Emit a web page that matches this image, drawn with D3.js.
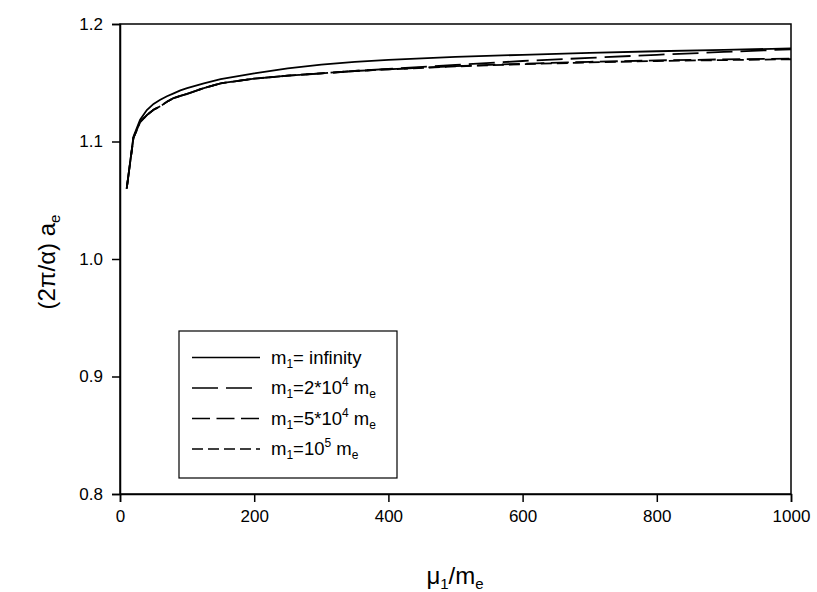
<!DOCTYPE html>
<html><head><meta charset="utf-8">
<script src="https://cdn.jsdelivr.net/npm/d3@7"></script>
<style>body{margin:0;background:#fff}svg{display:block}text{font-family:Arial,"Liberation Sans",sans-serif;fill:#000}</style>
</head><body><svg id="c" width="817" height="592"></svg>
<script>
const mu = [10,20,30,40,50,60,70,80,90,100,125,150,200,250,300,350,400,500,600,700,800,900,1000];
const infinity = [1.060,1.104,1.1185,1.1268,1.132,1.1355,1.1385,1.141,1.1435,1.1455,1.1495,1.153,1.158,1.1622,1.1655,1.1677,1.1695,1.172,1.1738,1.1755,1.1768,1.178,1.1792];
const m2e4 = [1.060,1.103,1.1165,1.1225,1.127,1.130,1.1338,1.137,1.1388,1.1405,1.1455,1.1495,1.1535,1.156,1.158,1.160,1.1618,1.1652,1.1685,1.1712,1.1738,1.1762,1.1785];
const m5e4 = [1.060,1.103,1.1165,1.1225,1.127,1.130,1.1338,1.137,1.1388,1.1405,1.1455,1.1495,1.1535,1.156,1.158,1.160,1.1615,1.1642,1.1662,1.1678,1.1690,1.1699,1.1706];
const m1e5 = [1.060,1.103,1.1165,1.1225,1.127,1.130,1.1338,1.137,1.1388,1.1405,1.1455,1.1495,1.1535,1.156,1.158,1.160,1.1614,1.1639,1.1658,1.1673,1.1685,1.1693,1.1700];
const xTicks = [0,200,400,600,800,1000];
const yTicks = [0.8,0.9,1.0,1.1,1.2];
const seriesNames = ["infinity","2*10^4","5*10^4","10^5"];

const series = [
  {vals: infinity, dash: null, label: [["m",""],["1","sub"],["= infinity",""]]},
  {vals: m2e4, dash: "26,8", label: [["m",""],["1","sub"],["=2*10",""],["4","sup"],[" m",""],["e","sub"]]},
  {vals: m5e4, dash: "18,6.5", label: [["m",""],["1","sub"],["=5*10",""],["4","sup"],[" m",""],["e","sub"]]},
  {vals: m1e5, dash: "11,5", label: [["m",""],["1","sub"],["=10",""],["5","sup"],[" m",""],["e","sub"]]}
];

const svg = d3.select("#c");
const L=120, R=791, T=24, B=494;
const x = d3.scaleLinear().domain([0,1000]).range([L,R]);
const y = d3.scaleLinear().domain([0.8,1.2]).range([B,T]);

svg.append("rect").attr("x",L).attr("y",T).attr("width",R-L).attr("height",B-T)
  .attr("fill","none").attr("stroke","#000").attr("stroke-width",1.5);

const xa = svg.append("g").attr("transform",`translate(0,${B})`)
  .call(d3.axisBottom(x).tickValues(xTicks).tickSize(8).tickPadding(8).tickFormat(d3.format("d")));
const ya = svg.append("g").attr("transform",`translate(${L},0)`)
  .call(d3.axisLeft(y).tickValues(yTicks).tickSize(8).tickPadding(9).tickFormat(d3.format(".1f")));
[xa,ya].forEach(a=>{
  a.select(".domain").attr("stroke-width",1.5);
  a.selectAll(".tick line").attr("stroke-width",1.5);
  a.selectAll("text").style("font-size","17px").style("font-family","Arial, 'Liberation Sans', sans-serif");
});

const line = d3.line().x((d,i)=>x(mu[i])).y(d=>y(d)).curve(d3.curveLinear);
series.forEach(s=>{
  svg.append("path").attr("d",line(s.vals)).attr("fill","none").attr("stroke","#000")
    .attr("stroke-width",1.8).attr("stroke-dasharray",s.dash);
});

// legend
svg.append("rect").attr("x",179).attr("y",331).attr("width",218).attr("height",147)
  .attr("fill","#fff").attr("stroke","#000").attr("stroke-width",1.2);
series.forEach((s,i)=>{
  const yy = 357.5 + i*30.5;
  svg.append("line").attr("x1",192).attr("x2",260).attr("y1",yy).attr("y2",yy)
    .attr("stroke","#000").attr("stroke-width",1.5).attr("stroke-dasharray",s.dash);
  const t = svg.append("text").attr("x",271).attr("y",yy+6).style("font-size","18.5px");
  let prev="";
  s.label.forEach(([txt,kind])=>{
    const ts = t.append("tspan").text(txt);
    let dy = 0;
    if(kind==="sub"){ts.style("font-size","12px"); dy = (prev==="sup")? 10 : 4;}
    else if(kind==="sup"){ts.style("font-size","12px"); dy = (prev==="sub")? -12 : -8;}
    else { dy = prev==="sub" ? -4 : (prev==="sup" ? 8 : 0); }
    if(dy) ts.attr("dy",dy);
    prev = kind;
  });
});

// axis titles
const xt = svg.append("text").attr("x",455).attr("y",584).attr("text-anchor","middle").style("font-size","24px");
xt.append("tspan").text("μ");
xt.append("tspan").text("1").style("font-size","15px").attr("dy",5);
xt.append("tspan").text("/m").attr("dy",-5);
xt.append("tspan").text("e").style("font-size","15px").attr("dy",5);

const yt = svg.append("text").attr("transform","translate(55,262) rotate(-90)").attr("text-anchor","middle").style("font-size","24px");
yt.append("tspan").text("(2π/α) a");
yt.append("tspan").text("e").style("font-size","15px").attr("dy",5);
</script></body></html>
